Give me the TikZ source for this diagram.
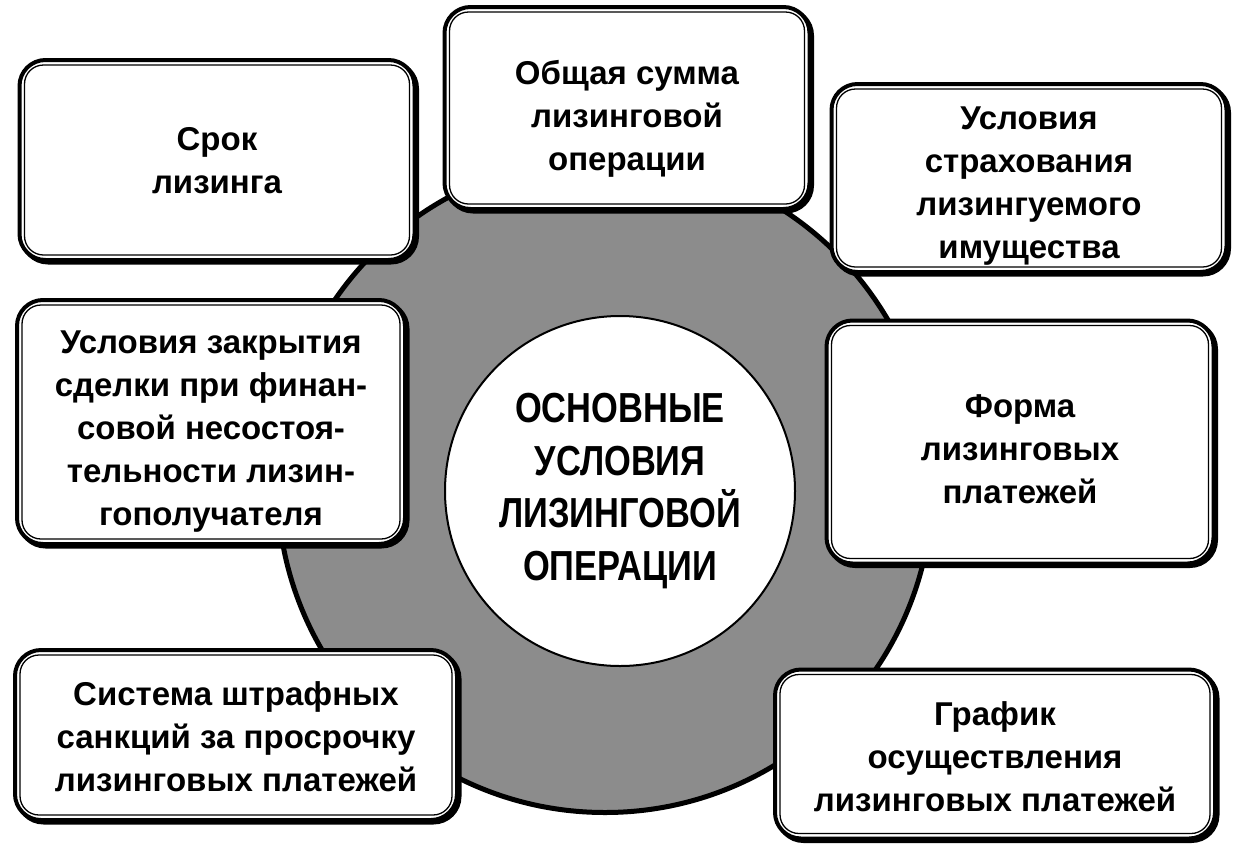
\documentclass[tikz,border=0pt]{standalone}
\usepackage{fontspec}
\setmainfont{Liberation Sans}
\newfontfamily\condfont[FakeStretch=0.82]{Liberation Sans}
\usetikzlibrary{shadows}
\definecolor{ringgray}{gray}{0.55}
\begin{document}
\begin{tikzpicture}[x=1pt,y=-1pt,
  box/.style={draw, line width=4pt, fill=white, rounded corners=26pt, inner sep=0pt,
    drop shadow={shadow xshift=2.5pt, shadow yshift=-2.5pt, opacity=1, fill=black, draw=black, line width=4pt}},
  boxtext/.style={inner sep=0pt, align=center, font={\bfseries\fontsize{33}{43}\selectfont}},
  innerline/.style={line width=1.3pt, rounded corners=19pt},
  ringstyle/.style={circle, draw, line width=5pt, fill=ringgray, inner sep=0pt},
  corestyle/.style={circle, draw, line width=2pt, fill=white, inner sep=0pt, align=center,
    font={\condfont\bfseries\fontsize{42}{52.5}\selectfont}}
]
\useasboundingbox[fill=white] (0,0) rectangle (1237,860);

\node[ringstyle, minimum size=655pt] (ring) at (605,485) {};
\node[corestyle, minimum size=350pt] (core) at (620,491) {ОСНОВНЫЕ\\УСЛОВИЯ\\ЛИЗИНГОВОЙ\\ОПЕРАЦИИ};

\node[box, minimum width=395pt, minimum height=200pt] (b1) at (217,160) {};
\node[box, minimum width=365pt, minimum height=202pt] (b2) at (627,108) {};
\node[box, minimum width=395pt, minimum height=188pt] (b3) at (1029,178) {};
\node[box, minimum width=387pt, minimum height=243pt] (b4) at (1020,442) {};
\node[box, minimum width=388pt, minimum height=244pt] (b5) at (211,422) {};
\node[box, minimum width=442pt, minimum height=170pt] (b6) at (236,735) {};
\node[box, minimum width=440pt, minimum height=169pt] (b7) at (995,754) {};

\foreach \b in {b1,b2,b3,b4,b5,b6,b7}{
  \draw[innerline] ([xshift=7pt,yshift=-7pt]\b.north west) rectangle ([xshift=-7pt,yshift=7pt]\b.south east);
}

\node[boxtext] (t1) at ([yshift=-1pt]b1.center) {Срок\\лизинга};
\node[boxtext] (t2) at ([yshift=-11pt]b2.center) {Общая сумма\\лизинговой\\операции};
\node[boxtext] (t3) at ([yshift=-8pt]b3.center) {Условия\\страхования\\лизингуемого\\имущества};
\node[boxtext] (t4) at ([yshift=-7pt]b4.center) {Форма\\лизинговых\\платежей};
\node[boxtext] (t5) at ([yshift=-10pt]b5.center) {Условия закрытия\\сделки при финан-\\совой несостоя-\\тельности лизин-\\гополучателя};
\node[boxtext] (t6) at ([yshift=-2pt]b6.center) {Система штрафных\\санкций за просрочку\\лизинговых платежей};
\node[boxtext] (t7) at ([yshift=-3pt]b7.center) {График\\осуществления\\лизинговых платежей};
\end{tikzpicture}
\end{document}
